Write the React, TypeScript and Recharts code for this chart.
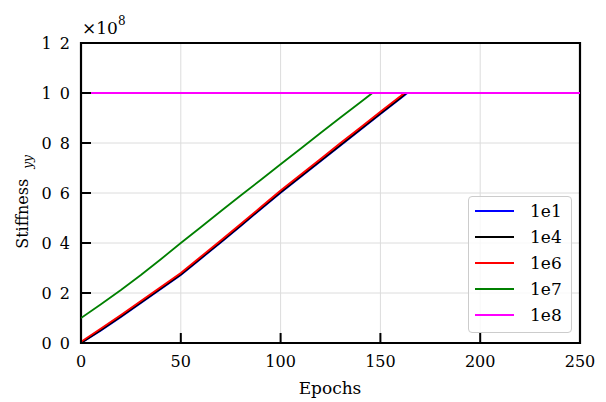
import React from 'react';
import { LineChart, Line, XAxis, YAxis, CartesianGrid, Legend, ReferenceArea } from 'recharts';

const FONT = "'DejaVu Serif', 'Liberation Serif', serif";
const FS = 16;

const xTicks = [0, 50, 100, 150, 200, 250];
const yTicks = [0, 0.2, 0.4, 0.6, 0.8, 1.0, 1.2];
const yTickLabels = ['0 0', '0 2', '0 4', '0 6', '0 8', '1 0', '1 2'];

const seriesNames = ['1e1', '1e4', '1e6', '1e7', '1e8'];
const seriesColors = ['#0000ff', '#000000', '#ff0000', '#008000', '#ff00ff'];

const epochs1e1 = [0, 10, 20, 30, 40, 50, 60, 70, 80, 90, 100, 110, 120, 130, 140, 150, 160, 163.5, 250];
const values1e1 = [0.0, 0.05, 0.104, 0.16, 0.216, 0.272, 0.337, 0.402, 0.468, 0.535, 0.601, 0.664, 0.727, 0.79, 0.853, 0.916, 0.978, 1.0, 1.0];

const epochs1e4 = [0, 10, 20, 30, 40, 50, 60, 70, 80, 90, 100, 110, 120, 130, 140, 150, 160, 163, 250];
const values1e4 = [0.0, 0.052, 0.106, 0.162, 0.218, 0.274, 0.339, 0.404, 0.47, 0.537, 0.603, 0.666, 0.729, 0.792, 0.855, 0.918, 0.98, 1.0, 1.0];

const epochs1e6 = [0, 10, 20, 30, 40, 50, 60, 70, 80, 90, 100, 110, 120, 130, 140, 150, 160, 162, 250];
const values1e6 = [0.005, 0.058, 0.112, 0.168, 0.224, 0.28, 0.345, 0.41, 0.476, 0.543, 0.61, 0.673, 0.736, 0.8, 0.862, 0.925, 0.987, 1.0, 1.0];

const epochs1e7 = [0, 10, 20, 30, 40, 50, 60, 70, 80, 90, 100, 110, 120, 130, 140, 146, 250];
const values1e7 = [0.1, 0.155, 0.212, 0.272, 0.335, 0.4, 0.463, 0.527, 0.59, 0.652, 0.715, 0.777, 0.84, 0.902, 0.963, 1.0, 1.0];

const epochs1e8 = [0, 250];
const values1e8 = [1.0, 1.0];

const toData = (xs: number[], ys: number[]) => xs.map((x, i) => ({ epoch: x, value: ys[i] }));

const seriesData = [
  toData(epochs1e1, values1e1),
  toData(epochs1e4, values1e4),
  toData(epochs1e6, values1e6),
  toData(epochs1e7, values1e7),
  toData(epochs1e8, values1e8),
];

const textStyle: React.CSSProperties = { fontFamily: FONT, fontSize: FS, fill: '#000' };

const XTick = (props: any) => {
  const { x, y, payload } = props;
  return (
    <g>
      <line x1={x} y1={y} x2={x} y2={y - 10} stroke="#000" strokeWidth={2} />
      <text x={x} y={y + 24} textAnchor="middle" style={textStyle}>
        {payload.value}
      </text>
    </g>
  );
};

const YTick = (props: any) => {
  const { x, y, payload } = props;
  const idx = yTicks.findIndex((t) => Math.abs(t - payload.value) < 1e-9);
  return (
    <g>
      <line x1={x} y1={y} x2={x + 10} y2={y} stroke="#000" strokeWidth={2} />
      <text x={x - 11} y={y + 6} textAnchor="end" style={{ ...textStyle, whiteSpace: 'pre', wordSpacing: '3px' }}>
        {idx >= 0 ? yTickLabels[idx] : ''}
      </text>
    </g>
  );
};

const LegendBox = (props: any) => {
  const { payload } = props;
  return (
    <div
      style={{
        border: '1.5px solid #cccccc',
        borderRadius: 4,
        background: 'rgba(255,255,255,0.8)',
        padding: '1px 0 4px 6px',
        boxSizing: 'border-box',
        width: 104,
      }}
    >
      {(payload || []).map((p: any) => (
        <div key={p.value} style={{ display: 'flex', alignItems: 'center', height: 26 }}>
          <svg width={39} height={4} style={{ display: 'block' }}>
            <line x1={0} y1={2} x2={39} y2={2} stroke={p.color} strokeWidth={2} />
          </svg>
          <span style={{ marginLeft: 16, fontFamily: FONT, fontSize: 17, color: '#000', lineHeight: '26px' }}>{p.value}</span>
        </div>
      ))}
    </div>
  );
};

export default function App() {
  return (
    <div style={{ position: 'absolute', left: 0, top: 0, width: 606, height: 402, background: '#fff' }}>
      <LineChart width={606} height={402} margin={{ top: 43, right: 26, bottom: 0, left: 0 }}>
        <CartesianGrid stroke="#dcdcdc" strokeWidth={1} />
        <XAxis
          dataKey="epoch"
          type="number"
          domain={[0, 250]}
          ticks={xTicks}
          allowDataOverflow
          height={59}
          axisLine={false}
          tickLine={false}
          tickSize={0}
          tickMargin={0}
          tick={<XTick />}
          interval={0}
        />
        <YAxis
          type="number"
          domain={[0, 1.2]}
          ticks={yTicks}
          allowDataOverflow
          width={81}
          axisLine={false}
          tickLine={false}
          tickSize={0}
          tickMargin={0}
          tick={<YTick />}
          interval={0}
        />
        {seriesNames.map((name, i) => (
          <Line
            key={name}
            data={seriesData[i]}
            dataKey="value"
            name={name}
            stroke={seriesColors[i]}
            strokeWidth={1.8}
            dot={false}
            activeDot={false}
            isAnimationActive={false}
            type="linear"
          />
        ))}
        <ReferenceArea x1={0} x2={250} y1={0} y2={1.2} fill="none" stroke="#000" strokeWidth={2.2} ifOverflow="visible" />
        <Legend
          layout="vertical"
          align="center"
          verticalAlign="middle"
          content={<LegendBox />}
          wrapperStyle={{ left: 468, top: 196, width: 104, height: 138 }}
        />
      </LineChart>
      <svg width={606} height={402} style={{ position: 'absolute', left: 0, top: 0, pointerEvents: 'none' }}>
        <text transform="translate(28, 202) rotate(-90)" textAnchor="middle" style={textStyle}>
          Stiffness
          <tspan dx={10} dy={4} fontStyle="italic" style={{ fontSize: 12 }}>yy</tspan>
        </text>
        <text x={330} y={394} textAnchor="middle" style={{ ...textStyle, fontSize: 17 }}>Epochs</text>
        <text x={82} y={34} style={{ ...textStyle, fontSize: 17 }}>
          ×10<tspan dy={-9} style={{ fontSize: 12 }}>8</tspan>
        </text>
      </svg>
    </div>
  );
}
